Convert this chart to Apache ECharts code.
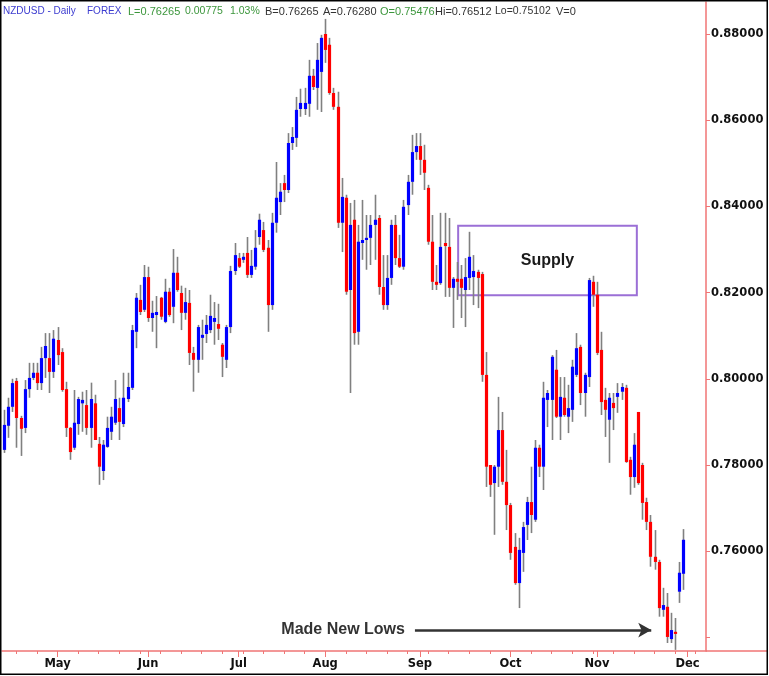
<!DOCTYPE html>
<html><head><meta charset="utf-8">
<script src="https://cdn.jsdelivr.net/npm/echarts@6/dist/echarts.min.js"></script>
<style>html,body{margin:0;padding:0;background:#fff}#c{width:769px;height:676px}</style>
</head><body><div id="c"></div>
<script>
// ---- data (NZDUSD daily) ----
const startDate = [2011, 3, 13]; // first candle: 13 Apr 2011 (weekdays only)
const padDays = 5;
const opens = [
.7835,.7891,.7935,.7995,.7909,.7886,.7976,.8002,.8014,.7990,.8048,.8048,.8016,.8090,.8062,.7976,.7886,.7840,.7895,.7943,
.7939,.7886,.7943,.7849,.7786,.7842,.7877,.7898,.7932,.7895,.7953,.7979,.8109,.8183,.8160,.8236,.8141,.8148,.8188,.8132,
.8202,.8167,.8246,.8199,.8153,.8176,.8060,.8044,.8095,.8104,.8113,.8132,.8127,.8079,.8044,.8120,.8250,.8280,.8276,.8292,
.8241,.8260,.8329,.8345,.8304,.8171,.8362,.8410,.8454,.8438,.8547,.8559,.8626,.8626,.8638,.8703,.8675,.8712,.8800,.8775,
.8663,.8631,.8362,.8420,.8206,.8369,.8109,.8315,.8322,.8327,.8357,.8373,.8213,.8171,.8234,.8357,.8280,.8260,.8403,.8457,
.8526,.8540,.8508,.8443,.8318,.8225,.8222,.8315,.8306,.8211,.8232,.8232,.8206,.8234,.8236,.8248,.8243,.8009,.7800,.7758,
.7796,.7881,.7761,.7707,.7610,.7526,.7596,.7661,.7714,.7673,.7840,.7796,.7951,.7951,.8021,.7912,.7956,.7912,.7928,.8009,
.8074,.7967,.8004,.8225,.8195,.8067,.7951,.7905,.7944,.7958,.7970,.7979,.7812,.7772,.7923,.7800,.7714,.7668,.7587,.7575,
.7464,.7471,.7396,.7413,.7506,.75476];
const closes = [
.7893,.7935,.7990,.7909,.7884,.7976,.8002,.8014,.7990,.8048,.8076,.8016,.8093,.8055,.7974,.7886,.7830,.7898,.7953,.7951,
.7886,.7953,.7858,.7796,.7847,.7886,.7912,.7953,.7900,.7956,.7981,.8113,.8188,.8155,.8236,.8141,.8153,.8155,.8144,.8202,
.8148,.8246,.8206,.8153,.8178,.8060,.8044,.8120,.8102,.8125,.8146,.8141,.8116,.8051,.8120,.8250,.8287,.8260,.8283,.8241,
.8262,.8304,.8369,.8299,.8171,.8362,.8420,.8434,.8438,.8547,.8561,.8624,.8640,.8640,.8703,.8677,.8740,.8791,.8763,.8663,
.8631,.8362,.8422,.8202,.8357,.8106,.8318,.8322,.8327,.8357,.8369,.8213,.8171,.8234,.8357,.8280,.8260,.8399,.8457,.8526,
.8540,.8508,.8478,.8318,.8225,.8218,.8306,.8308,.8211,.8232,.8225,.8211,.8236,.8283,.8250,.8234,.8009,.7796,.7754,.7796,
.7881,.7761,.7707,.7596,.7526,.7603,.7656,.7714,.7684,.7840,.7796,.7956,.7967,.8051,.7912,.7958,.7916,.7932,.8028,.8071,
.7967,.8009,.8229,.8195,.8060,.7946,.7928,.7956,.7932,.7967,.7981,.7807,.7772,.7847,.7758,.7712,.7668,.7587,.7575,.7468,
.7475,.7401,.7417,.7408,.7550,.76265];
const lows = [
.7828,.7863,.7923,.7840,.7821,.7874,.7956,.7997,.7974,.7974,.8002,.7967,.8002,.8032,.7970,.7865,.7812,.7835,.7870,.7877,
.7870,.7840,.7858,.7754,.7765,.7840,.7858,.7893,.7858,.7888,.7946,.7974,.8071,.8148,.8155,.8132,.8109,.8071,.8137,.8129,
.8144,.8129,.8202,.8113,.8137,.8032,.7970,.8014,.8044,.8083,.8106,.8079,.8090,.8004,.8025,.8106,.8241,.8257,.8269,.8234,
.8234,.8253,.8311,.8294,.8109,.8160,.8339,.8380,.8410,.8431,.8531,.8538,.8608,.8612,.8608,.8670,.8624,.8619,.8733,.8659,
.8624,.8350,.8294,.8195,.7967,.8079,.8079,.8276,.8253,.8264,.8276,.8195,.8160,.8160,.8218,.8264,.8257,.8253,.8380,.8427,
.8508,.8473,.8438,.8311,.8206,.8206,.8218,.8190,.8190,.8118,.8183,.8141,.8120,.8206,.8171,.8164,.7993,.7749,.7726,.7638,
.7749,.7754,.7649,.7580,.7522,.7468,.7552,.7626,.7642,.7668,.7772,.7742,.7888,.7858,.7909,.7858,.7912,.7874,.7900,.8004,
.7939,.7912,.7981,.8167,.8055,.7916,.7865,.7805,.7881,.7921,.7951,.7805,.7731,.7747,.7754,.7673,.7649,.7564,.7557,.7448,
.7448,.7387,.7387,.7371,.7480,.75102];
const highs = [
.7928,.7956,.8000,.8002,.7914,.7997,.8037,.8037,.8037,.8074,.8106,.8106,.8113,.8120,.8071,.7993,.7888,.7974,.7958,.7970,
.7974,.7991,.7963,.7865,.7858,.7912,.7935,.7997,.7956,.8014,.8014,.8125,.8199,.8218,.8264,.8260,.8181,.8192,.8190,.8232,
.8211,.8301,.8283,.8216,.8211,.8206,.8074,.8125,.8137,.8148,.8195,.8178,.8174,.8083,.8125,.8262,.8315,.8292,.8292,.8329,
.8299,.8345,.8383,.8364,.8322,.8385,.8503,.8454,.8473,.8570,.8584,.8654,.8673,.8675,.8740,.8719,.8779,.8798,.8835,.8791,
.8675,.8666,.8466,.8427,.8408,.8415,.8357,.8415,.8380,.8380,.8427,.8380,.8287,.8287,.8369,.8380,.8334,.8415,.8473,.8566,
.8570,.8570,.8543,.8450,.8380,.8264,.8385,.8385,.8373,.8236,.8271,.8264,.8280,.8341,.8287,.8253,.8248,.8062,.7800,.7800,
.7958,.7923,.7835,.7712,.7642,.7631,.7668,.7726,.7796,.7858,.7847,.7993,.7974,.8055,.8067,.8004,.8004,.7986,.8044,.8106,
.8079,.8014,.8234,.8239,.8225,.8109,.7979,.7967,.7967,.7990,.7990,.7986,.7819,.7874,.7923,.7805,.7724,.7684,.7649,.7580,
.7515,.7503,.7457,.7445,.7575,.76512];
const yTickValues = [0.74, 0.76, 0.78, 0.80, 0.82, 0.84, 0.86, 0.88];
const yLabelValues = [0.76, 0.78, 0.80, 0.82, 0.84, 0.86, 0.88];
const monthNames = ['Jan','Feb','Mar','Apr','May','Jun','Jul','Aug','Sep','Oct','Nov','Dec'];
const lastPrice = 0.76265;
const supplyBox = { x0: 110.3, x1: 153.7, top: 0.8355, bottom: 0.8194, text: 'Supply' };
const lowsNote = { x0: 99.8, x1: 157.2, level: 0.7417, text: 'Made New Lows' };
const headerParts = [
  ['NZDUSD - Daily', '#3c3cd0', 3, 10],
  ['FOREX', '#3c3cd0', 87, 10],
  ['L=0.76265', '#3c963c', 128, 11],
  ['0.00775', '#3c963c', 185, 10.5],
  ['1.03%', '#3c963c', 230, 10.5],
  ['B=0.76265', '#333', 265, 11],
  ['A=0.76280', '#333', 323, 11],
  ['O=0.75476', '#3c963c', 380, 11],
  ['Hi=0.76512', '#333', 435, 11],
  ['Lo=0.75102', '#333', 495, 10.5],
  ['V=0', '#333', 556, 11]
];

// ---- build ----
const nDays = opens.length;
const dates = [];
{
  const d = new Date(Date.UTC(startDate[0], startDate[1], startDate[2]));
  while (dates.length < nDays + padDays) {
    const wd = d.getUTCDay();
    if (wd !== 0 && wd !== 6) dates.push(new Date(d.getTime()));
    d.setUTCDate(d.getUTCDate() + 1);
  }
}
const monthStarts = [], weekStarts = [];
for (let i = 1; i < dates.length; i++) {
  if (dates[i].getUTCMonth() !== dates[i - 1].getUTCMonth()) monthStarts.push(i);
  if (dates[i].getUTCDay() === 1) weekStarts.push(i);
}
const candles = opens.map((o, i) => [i, o, closes[i], lows[i], highs[i]]);
const xMin = -0.5, xMax = dates.length - 0.5;
const RED = '#f07575';

function renderCandle(params, api) {
  const i = api.value(0), o = api.value(1), c = api.value(2), l = api.value(3), h = api.value(4);
  const pH = api.coord([i, h]), pL = api.coord([i, l]);
  const pO = api.coord([i, o]), pC = api.coord([i, c]);
  const x = Math.round(pH[0]) + 0.5;
  const top = Math.min(pO[1], pC[1]);
  let hh = Math.abs(pO[1] - pC[1]);
  if (hh < 1.5) hh = 1.5;
  return {
    type: 'group',
    children: [
      { type: 'line', shape: { x1: x, y1: pH[1], x2: x, y2: pL[1] }, style: { stroke: '#808080', lineWidth: 1.6 } },
      { type: 'rect', shape: { x: x - 1.6, y: top, width: 3.2, height: hh }, style: { fill: c >= o ? '#0000ff' : '#ff0000' } }
    ]
  };
}

const chart = echarts.init(document.getElementById('c'), null, { renderer: 'canvas' });
const graphics = headerParts.map(p => ({
  type: 'text', left: p[2], top: 6, z: 10,
  style: { text: p[0], fill: p[1], font: p[3] + 'px "Liberation Sans", Arial, sans-serif' }
}));
graphics.push({ type: 'rect', shape: { x: 0.75, y: 0.75, width: 766.5, height: 673.5 }, style: { fill: 'none', stroke: '#000', lineWidth: 1.5 }, z: 20 });
graphics.push({ type: 'line', shape: { x1: 706, y1: 651, x2: 767, y2: 651 }, style: { stroke: RED, lineWidth: 1.5 }, z: 5 });

chart.setOption({
  animation: false,
  backgroundColor: '#fff',
  grid: { left: 2, right: 63, top: 2, bottom: 25, containLabel: false },
  xAxis: [{
    type: 'value', min: xMin, max: xMax,
    splitLine: { show: false },
    axisLine: { show: true, onZero: false, lineStyle: { color: RED, width: 1.5 } },
    axisTick: { show: true, customValues: monthStarts, length: 6, lineStyle: { color: RED, width: 1 } },
    axisLabel: {
      customValues: monthStarts,
      formatter: v => monthNames[dates[Math.round(v)].getUTCMonth()],
      color: '#111', fontWeight: 'bold', fontSize: 11.5, fontFamily: 'DejaVu Sans', margin: 7
    }
  }, {
    type: 'value', min: xMin, max: xMax, position: 'bottom',
    splitLine: { show: false },
    axisLine: { show: false, onZero: false },
    axisTick: { show: true, customValues: weekStarts, length: 3, lineStyle: { color: RED, width: 1 } },
    axisLabel: { show: false }
  }],
  yAxis: {
    type: 'value', position: 'right', min: 0.73684, max: 0.88742, scale: true,
    splitLine: { show: false },
    axisLine: { show: true, onZero: false, lineStyle: { color: RED, width: 1.5 } },
    axisTick: { show: true, customValues: yTickValues, length: 4, lineStyle: { color: RED, width: 1 } },
    axisLabel: {
      customValues: yLabelValues,
      formatter: v => v.toFixed(5),
      color: '#111', fontWeight: 'bold', fontSize: 11.5, fontFamily: 'DejaVu Sans', margin: 5
    }
  },
  series: [{
    type: 'custom', name: 'NZDUSD',
    renderItem: renderCandle,
    data: candles,
    encode: { x: 0, y: [1, 2, 3, 4] },
    clip: true,
    z: 2
  }, {
    type: 'line', data: [], xAxisIndex: 0, yAxisIndex: 0, silent: true,
    markArea: {
      silent: true,
      itemStyle: { color: 'rgba(0,0,0,0)', borderColor: '#9b6fd6', borderWidth: 2 },
      label: { show: true, position: 'inside', formatter: supplyBox.text, color: '#1a1a1a', fontWeight: 'bold', fontSize: 16, fontFamily: 'Liberation Sans, Arial' },
      data: [[{ coord: [supplyBox.x0, supplyBox.top] }, { coord: [supplyBox.x1, supplyBox.bottom] }]]
    },
    markLine: {
      silent: true, animation: false,
      data: [
        [{ coord: [lowsNote.x0, lowsNote.level], symbol: 'none' },
         { coord: [lowsNote.x1, lowsNote.level], symbol: 'arrow', symbolSize: [11, 13] }],
        { yAxis: lastPrice, symbol: 'none', lineStyle: { opacity: 0 },
          label: { show: true, position: 'end', formatter: lastPrice.toFixed(5), color: '#fff', backgroundColor: '#0000ff',
                   fontWeight: 'bold', fontSize: 11.5, fontFamily: 'DejaVu Sans', padding: [2, 5, 1, 5], distance: 1 } }
      ],
      lineStyle: { color: '#333', width: 2.5, type: 'solid' },
      label: { show: true, position: 'start', formatter: lowsNote.text, color: '#333', fontWeight: 'bold', fontSize: 16, fontFamily: 'Liberation Sans, Arial', distance: 10 }
    }
  }],
  graphic: graphics
});
</script></body></html>
